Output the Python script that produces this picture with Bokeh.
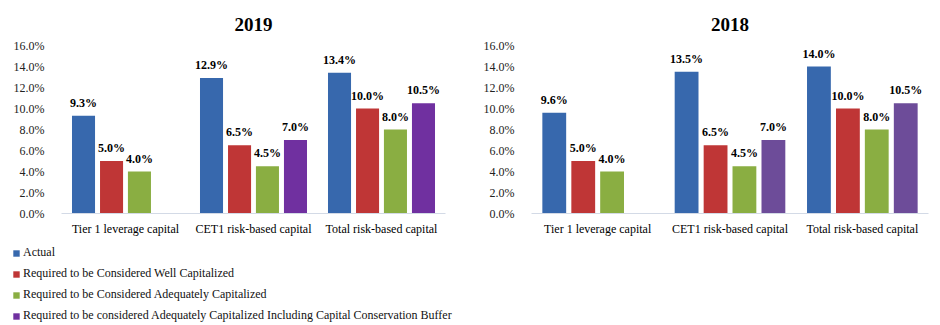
from bokeh.plotting import figure
from bokeh.models import (ColumnDataSource, FactorRange, Range1d, LabelSet, Legend,
                          LegendItem, PrintfTickFormatter, FixedTicker)
from bokeh.transform import dodge
from bokeh.layouts import column, row
from bokeh.embed import file_html
from bokeh.resources import INLINE

# ---------------- data ----------------
categories = ["Tier 1 leverage capital", "CET1 risk-based capital", "Total risk-based capital"]
series_names = [
    "Actual",
    "Required to be Considered Well Capitalized",
    "Required to be Considered Adequately Capitalized",
    "Required to be considered Adequately Capitalized Including Capital Conservation Buffer",
]
actual_2019 = [9.3, 12.9, 13.4]
well_2019 = [5.0, 6.5, 10.0]
adequate_2019 = [4.0, 4.5, 8.0]
buffer_2019 = [None, 7.0, 10.5]

actual_2018 = [9.6, 13.5, 14.0]
well_2018 = [5.0, 6.5, 10.0]
adequate_2018 = [4.0, 4.5, 8.0]
buffer_2018 = [None, 7.0, 10.5]

y_ticks = [0, 2, 4, 6, 8, 10, 12, 14, 16]

# ---------------- style ----------------
FONT = "Liberation Serif"
colors_2019 = ["#3768ad", "#bf3636", "#8aae42", "#7030a0"]
colors_2018 = ["#3768ad", "#bf3636", "#8aae42", "#6d4c99"]
offsets = [-0.328, -0.109, 0.109, 0.328]
BAR_W = 0.18


def make_chart(title, series, colors, width, border_left, border_right, title_offset):
    p = figure(width=width, height=240, x_range=FactorRange(*categories, range_padding=0),
               y_range=Range1d(0, 16), toolbar_location=None, output_backend="svg",
               min_border_left=border_left, min_border_right=border_right,
               min_border_top=45, min_border_bottom=27)
    p.title.text = title
    p.title.align = "center"
    p.title.text_font = FONT
    p.title.text_font_size = "19px"
    p.title.text_font_style = "bold"
    p.title.text_color = "#000000"
    p.title.offset = title_offset
    p.title.standoff = 29

    for vals, color, off in zip(series, colors, offsets):
        xs = [c for c, v in zip(categories, vals) if v is not None]
        tops = [v for v in vals if v is not None]
        labels = ["%.1f%%" % v for v in tops]
        src = ColumnDataSource(dict(x=xs, top=tops, label=labels))
        p.vbar(x=dodge("x", off, range=p.x_range), top="top", width=BAR_W, source=src,
               fill_color=color, line_color=None)
        p.add_layout(LabelSet(x=dodge("x", off, range=p.x_range), y="top", text="label",
                              source=src, y_offset=9, text_align="center",
                              text_baseline="alphabetic", text_font=FONT,
                              text_font_size="12px", text_font_style="bold",
                              text_color="#000000"))

    p.xgrid.grid_line_color = None
    p.ygrid.grid_line_color = None
    p.outline_line_color = None

    p.yaxis.ticker = FixedTicker(ticks=y_ticks)
    p.yaxis.formatter = PrintfTickFormatter(format="%.1f%%")
    p.yaxis.axis_line_color = None
    p.yaxis.major_tick_line_color = None
    p.yaxis.minor_tick_line_color = None
    p.yaxis.major_label_standoff = 11
    p.yaxis.major_label_text_font = FONT
    p.yaxis.major_label_text_font_size = "12px"
    p.yaxis.major_label_text_color = "#222222"

    p.xaxis.axis_line_color = "#d3dae6"
    p.xaxis.axis_line_width = 1
    p.xaxis.major_tick_line_color = None
    p.xaxis.minor_tick_line_color = None
    p.xaxis.major_label_standoff = 2
    p.xaxis.major_label_text_font = FONT
    p.xaxis.major_label_text_font_size = "12px"
    p.xaxis.major_label_text_color = "#000000"
    return p


p1 = make_chart("2019", [actual_2019, well_2019, adequate_2019, buffer_2019], colors_2019,
                470, 61, 25, -23)
p2 = make_chart("2018", [actual_2018, well_2018, adequate_2018, buffer_2018], colors_2018,
                470, 61, 12, -29)

# ---------------- legend ----------------
leg = figure(width=470, height=85, x_range=Range1d(0, 1), y_range=Range1d(0, 1),
             toolbar_location=None, output_backend="svg",
             min_border_left=7, min_border_right=0, min_border_top=0, min_border_bottom=0)
leg.axis.visible = False
leg.xgrid.grid_line_color = None
leg.ygrid.grid_line_color = None
leg.outline_line_color = None
items = []
for name, color in zip(series_names, colors_2019):
    # legend-only renderer: a single bar placed outside the visible range
    r = leg.vbar(x=[5], top=[5], bottom=[4], width=0.1, fill_color=color, line_color=None)
    items.append(LegendItem(label=name, renderers=[r]))
legend = Legend(items=items, location="top_left", orientation="vertical",
                glyph_width=8, glyph_height=8, label_standoff=3, padding=0, margin=5,
                spacing=6, label_height=14, label_text_font=FONT,
                label_text_font_size="12px", label_text_color="#111111",
                background_fill_alpha=0, border_line_color=None)
leg.add_layout(legend, "center")

layout = column(row(p1, p2), leg)
open("out.html", "w").write(file_html(layout, INLINE))
